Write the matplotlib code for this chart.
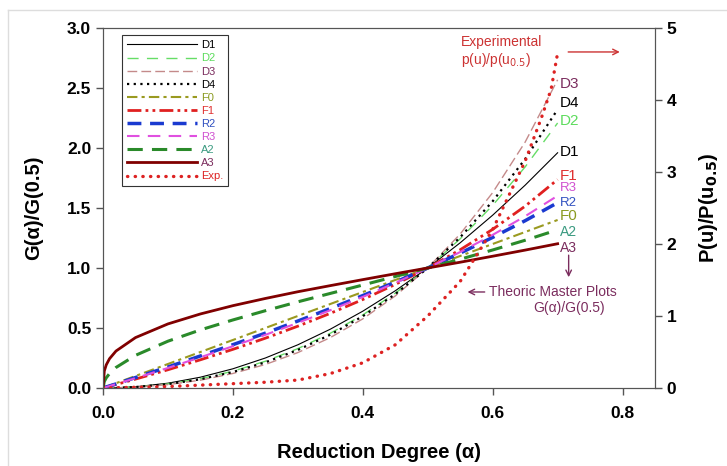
import matplotlib
matplotlib.use('Agg')
import matplotlib.pyplot as plt
from matplotlib.lines import Line2D

plt.rcParams['font.family'] = ['Liberation Sans', 'DejaVu Sans']

# reduction degree grid
alpha = [0, 0.002, 0.005, 0.01, 0.02, 0.05, 0.1, 0.15, 0.2, 0.25, 0.3,
         0.35, 0.4, 0.45, 0.5, 0.55, 0.6, 0.65, 0.7]

# theoretic master plots G(a)/G(0.5)
d1 = [0, 0, 0, 0, 0.002, 0.01, 0.04, 0.09, 0.16, 0.25, 0.36,
      0.49, 0.64, 0.81, 1.0, 1.21, 1.44, 1.69, 1.96]
d2 = [0, 0, 0, 0, 0.001, 0.008, 0.034, 0.077, 0.140, 0.223, 0.328,
      0.456, 0.609, 0.790, 1.0, 1.243, 1.522, 1.842, 2.208]
d3 = [0, 0, 0, 0, 0.001, 0.007, 0.028, 0.065, 0.121, 0.196, 0.295,
      0.420, 0.576, 0.767, 1.0, 1.283, 1.628, 2.049, 2.568]
d4 = [0, 0, 0, 0, 0.001, 0.008, 0.032, 0.073, 0.133, 0.214, 0.317,
      0.444, 0.598, 0.782, 1.0, 1.256, 1.556, 1.908, 2.321]
f0 = [0, 0.004, 0.01, 0.02, 0.04, 0.10, 0.20, 0.30, 0.40, 0.50, 0.60,
      0.70, 0.80, 0.90, 1.0, 1.10, 1.20, 1.30, 1.40]
f1 = [0, 0.003, 0.007, 0.015, 0.029, 0.074, 0.152, 0.235, 0.322, 0.415, 0.515,
      0.622, 0.737, 0.863, 1.0, 1.152, 1.322, 1.515, 1.737]
r2 = [0, 0.003, 0.009, 0.017, 0.034, 0.087, 0.175, 0.267, 0.361, 0.457, 0.558,
      0.662, 0.770, 0.882, 1.0, 1.124, 1.255, 1.394, 1.544]
r3 = [0, 0.003, 0.008, 0.016, 0.033, 0.082, 0.167, 0.256, 0.348, 0.443, 0.543,
      0.648, 0.759, 0.876, 1.0, 1.133, 1.276, 1.431, 1.602]
a2 = [0, 0.054, 0.085, 0.120, 0.171, 0.272, 0.390, 0.484, 0.567, 0.644, 0.718,
      0.788, 0.858, 0.929, 1.0, 1.073, 1.150, 1.231, 1.318]
a3 = [0, 0.142, 0.193, 0.244, 0.308, 0.420, 0.534, 0.617, 0.686, 0.746, 0.802,
      0.853, 0.903, 0.952, 1.0, 1.048, 1.098, 1.149, 1.202]

# experimental p(u)/p(u0.5), right axis
alpha_exp = [0, 0.05, 0.1, 0.15, 0.2, 0.25, 0.3, 0.35, 0.4, 0.45, 0.5,
             0.55, 0.6, 0.65, 0.675, 0.69, 0.7]
p_exp = [0, 0.01, 0.02, 0.04, 0.06, 0.08, 0.11, 0.2, 0.35, 0.6, 1.0,
         1.48, 2.2, 3.15, 3.75, 4.15, 4.65]

fig = plt.figure(figsize=(7.27, 4.66), dpi=100)
ax = fig.add_axes([0.1417, 0.1674, 0.7593, 0.7726])
ax2 = ax.twinx()

series = [
    ('D1', d1, 'black', '-', 0.8),
    ('D2', d2, '#66dd66', (0, (8, 6)), 1.0),
    ('D3', d3, '#c48a8a', (0, (7, 3)), 1.0),
    ('D4', d4, 'black', (0, (1, 2)), 1.6),
    ('F0', f0, '#9a9a20', (0, (5, 2, 1.5, 2)), 1.5),
    ('F1', f1, '#e02020', (0, (5, 1.5, 1, 1.5, 1, 1.5)), 2.0),
    ('R2', r2, '#1a3ad0', (0, (4, 2.5)), 2.5),
    ('R3', r3, '#e050e0', (0, (6, 4)), 1.5),
    ('A2', a2, '#2a8a2a', (0, (5, 3)), 2.2),
    ('A3', a3, '#800000', '-', 2.0),
]
label_colors = {'D1': 'black', 'D2': '#5ddc5d', 'D3': '#7b2d5e', 'D4': 'black',
                'F0': '#8a9a20', 'F1': '#e03030', 'R2': '#3050c0', 'R3': '#d050d0',
                'A2': '#3a9a80', 'A3': '#7b2d5e', 'Exp.': '#dd2222'}

handles = []
for name, vals, col, ls, lw in series:
    h, = ax.plot(alpha, vals, color=col, linestyle=ls, lw=lw, label=name)
    handles.append(h)

hexp, = ax2.plot(alpha_exp, p_exp, color='#dd2222', lw=2.4,
                 linestyle=(0, (0.1, 2.2)), dash_capstyle='round', label='Exp.')
handles.append(hexp)

ax.set_xlim(0, 0.85)
ax.set_ylim(0, 3.0)
ax2.set_ylim(0, 5)
ax.set_xticks([0.0, 0.2, 0.4, 0.6, 0.8])
ax.set_yticks([0.0, 0.5, 1.0, 1.5, 2.0, 2.5, 3.0])
ax2.set_yticks([0, 1, 2, 3, 4, 5])

for a in (ax, ax2):
    a.tick_params(direction='out', length=5, width=1, labelsize=12.5, color='#555555')
    for lab in a.get_xticklabels() + a.get_yticklabels():
        lab.set_fontweight('bold')
    for s in a.spines.values():
        s.set_color('#555555')
ax.tick_params(axis='x', pad=8)

ax.set_xlabel('Reduction Degree (α)', fontsize=14.5, fontweight='bold', labelpad=16)
ax.set_ylabel('G(α)/G(0.5)', fontsize=14.5, fontweight='bold', labelpad=17)
ax2.set_ylabel('P(u)/P(u$_{\\mathbf{0.5}}$)', fontsize=14.5, fontweight='bold', labelpad=15)

# end-of-curve labels
end_labels = [
    ('D3', 2.53, 11),
    ('D4', 2.375, 11),
    ('D2', 2.225, 11),
    ('D1', 1.967, 11),
    ('F1', 1.77, 11),
    ('R3', 1.665, 9.5),
    ('R2', 1.545, 9.5),
    ('F0', 1.43, 11),
    ('A2', 1.30, 10),
    ('A3', 1.167, 10),
]
for name, y, fs in end_labels:
    ax.text(0.704, y, name, color=label_colors[name], fontsize=fs,
            ha='left', va='center')

ax.text(0.551, 2.8, 'Experimental\np(u)/p(u$_{0.5}$)', color='#cc3333',
        fontsize=10, ha='left', va='center', linespacing=1.15)
ax.annotate('', xy=(0.80, 2.8), xytext=(0.712, 2.8),
            arrowprops=dict(arrowstyle='->', color='#cc3333', lw=1))

ax.annotate('', xy=(0.717, 0.90), xytext=(0.717, 1.13),
            arrowprops=dict(arrowstyle='->', color='#7b2d5e', lw=1))
ax.annotate('', xy=(0.557, 0.80), xytext=(0.592, 0.80),
            arrowprops=dict(arrowstyle='->', color='#7b2d5e', lw=1))
ax.text(0.594, 0.80, 'Theoric Master Plots', color='#7b2d5e', fontsize=10,
        ha='left', va='center')
ax.text(0.718, 0.665, 'G(α)/G(0.5)', color='#7b2d5e', fontsize=10,
        ha='center', va='center')

leg = ax2.legend(handles=handles, loc='upper left', bbox_to_anchor=(0.025, 0.995),
                 fontsize=8, handlelength=6.3, labelspacing=0.28, handletextpad=0.3,
                 borderpad=0.45, fancybox=False, framealpha=1)
leg.get_frame().set_edgecolor('#333333')
leg.get_frame().set_linewidth(0.8)
for txt in leg.get_texts():
    txt.set_color(label_colors[txt.get_text()])

# light frame around the figure
fig.add_artist(Line2D([8 / 727, 1], [1 - 10 / 466, 1 - 10 / 466], color='#dddddd', lw=1))
fig.add_artist(Line2D([8 / 727, 8 / 727], [0, 1 - 10 / 466], color='#dddddd', lw=1))

fig.savefig('out.png', dpi=100)
